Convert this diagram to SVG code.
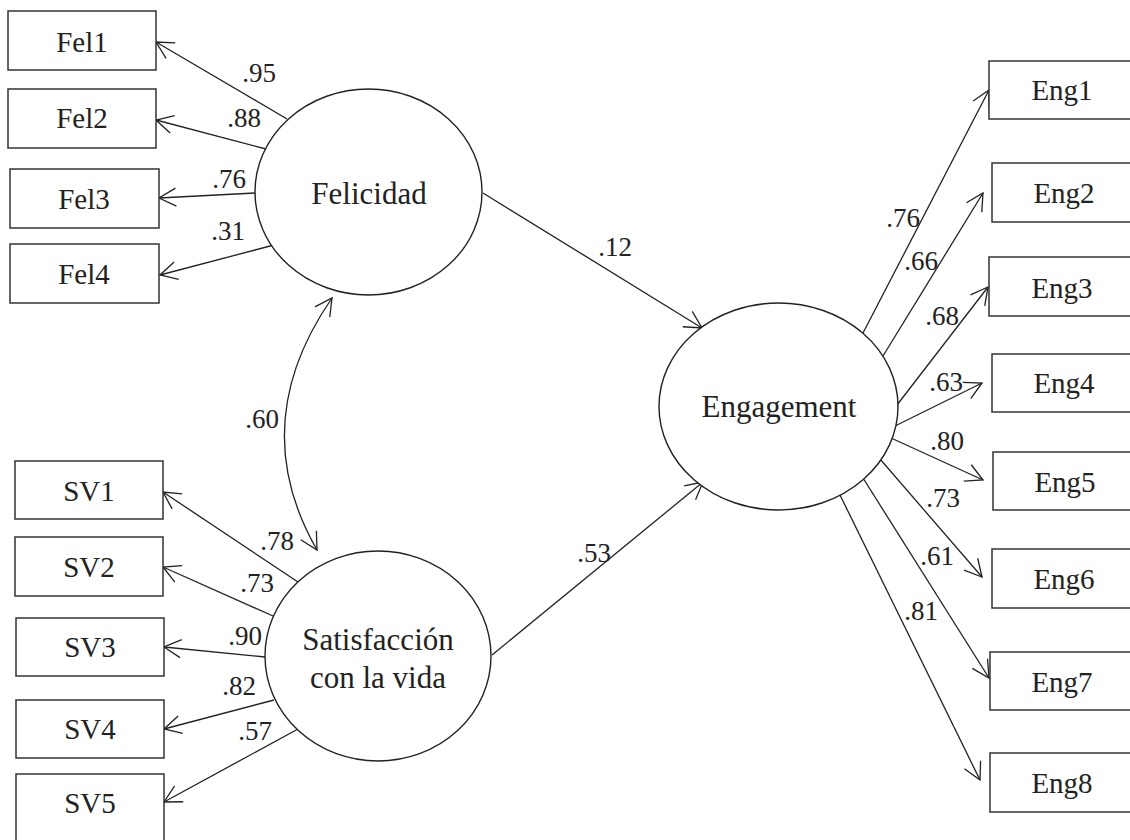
<svg xmlns="http://www.w3.org/2000/svg" width="1130" height="840" viewBox="0 0 1130 840">
<defs>
<style>
.box{fill:#fff;stroke:#333;stroke-width:1.5}
.lat{fill:#fff;stroke:#222;stroke-width:1.4}
.lbl{font-family:"Liberation Serif","Times New Roman",serif;font-size:29px;fill:#222;text-anchor:middle}
.big{font-family:"Liberation Serif","Times New Roman",serif;font-size:31px;fill:#222;text-anchor:middle}
.num{font-family:"Liberation Serif","Times New Roman",serif;font-size:27px;fill:#222;text-anchor:middle}
.ln{fill:none;stroke:#222;stroke-width:1.3;marker-end:url(#ah)}
</style>
<marker id="ah" markerUnits="userSpaceOnUse" markerWidth="22" markerHeight="22" viewBox="-20 -11 22 22" refX="0" refY="0" orient="auto-start-reverse">
<path d="M-17,-9 L0,0 L-17,9" fill="none" stroke="#222" stroke-width="1.3"/>
</marker>
</defs>

<g id="connectors">
<line class="ln" x1="287" y1="119" x2="156" y2="42"/>
<line class="ln" x1="266" y1="149" x2="156" y2="120"/>
<line class="ln" x1="255" y1="193" x2="159" y2="198"/>
<line class="ln" x1="274" y1="245" x2="160" y2="275"/>
<line class="ln" x1="298" y1="582" x2="163" y2="492"/>
<line class="ln" x1="273" y1="616" x2="163" y2="567"/>
<line class="ln" x1="265" y1="657" x2="164" y2="647"/>
<line class="ln" x1="274" y1="700" x2="164" y2="729"/>
<line class="ln" x1="298" y1="729" x2="164" y2="802"/>
<line class="ln" x1="483" y1="193" x2="702" y2="328"/>
<line class="ln" x1="492" y1="655" x2="703" y2="482"/>
<line class="ln" x1="863" y1="333" x2="989" y2="90"/>
<line class="ln" x1="883" y1="356" x2="983" y2="193"/>
<line class="ln" x1="897" y1="405" x2="988" y2="287"/>
<line class="ln" x1="893" y1="427" x2="982" y2="383"/>
<line class="ln" x1="891" y1="438" x2="983" y2="480"/>
<line class="ln" x1="880" y1="459" x2="982" y2="577"/>
<line class="ln" x1="863" y1="478" x2="989" y2="678"/>
<line class="ln" x1="840" y1="495" x2="980" y2="780"/>
<path class="ln" d="M332,298 Q245,424 317,550" style="marker-start:url(#ah)"/>
</g>

<g id="labels">
<text class="num" x="259" y="82">.95</text>
<text class="num" x="244" y="127">.88</text>
<text class="num" x="229" y="188">.76</text>
<text class="num" x="228" y="240">.31</text>
<text class="num" x="262" y="428">.60</text>
<text class="num" x="277" y="550">.78</text>
<text class="num" x="257" y="592">.73</text>
<text class="num" x="245" y="645">.90</text>
<text class="num" x="239" y="695">.82</text>
<text class="num" x="255" y="740">.57</text>
<text class="num" x="615" y="256">.12</text>
<text class="num" x="594" y="562">.53</text>
<text class="num" x="903" y="227">.76</text>
<text class="num" x="921" y="270">.66</text>
<text class="num" x="942" y="325">.68</text>
<text class="num" x="946" y="391">.63</text>
<text class="num" x="947" y="450">.80</text>
<text class="num" x="943" y="507">.73</text>
<text class="num" x="937" y="565">.61</text>
<text class="num" x="921" y="620">.81</text>
</g>

<g id="Felicidad"><ellipse class="lat" cx="368.5" cy="192" rx="113.5" ry="103"/><text class="big" x="369" y="204">Felicidad</text></g>
<g id="Satisfaccion"><ellipse class="lat" cx="378" cy="656" rx="113" ry="105"/><text class="big" x="378" y="650">Satisfacción</text><text class="big" x="378" y="688">con la vida</text></g>
<g id="Engagement"><ellipse class="lat" cx="778.5" cy="406.5" rx="119.5" ry="103.5"/><text class="big" x="779" y="417">Engagement</text></g>

<g id="Fel1"><rect class="box" x="8" y="11" width="148" height="59"/><text class="lbl" x="82" y="52">Fel1</text></g>
<g id="Fel2"><rect class="box" x="8" y="89" width="148" height="59"/><text class="lbl" x="82" y="128">Fel2</text></g>
<g id="Fel3"><rect class="box" x="10" y="169" width="149" height="59"/><text class="lbl" x="84" y="209">Fel3</text></g>
<g id="Fel4"><rect class="box" x="10" y="244" width="149" height="59"/><text class="lbl" x="84" y="284">Fel4</text></g>

<g id="SV1"><rect class="box" x="15" y="461" width="148" height="58"/><text class="lbl" x="89" y="501">SV1</text></g>
<g id="SV2"><rect class="box" x="15" y="537" width="148" height="59"/><text class="lbl" x="89" y="577">SV2</text></g>
<g id="SV3"><rect class="box" x="16" y="618" width="148" height="58"/><text class="lbl" x="90" y="657">SV3</text></g>
<g id="SV4"><rect class="box" x="16" y="700" width="148" height="58"/><text class="lbl" x="90" y="739">SV4</text></g>
<g id="SV5"><rect class="box" x="16" y="774" width="148" height="80"/><text class="lbl" x="90" y="813">SV5</text></g>

<g id="Eng1"><rect class="box" x="989" y="61" width="150" height="58"/><text class="lbl" x="1062" y="100">Eng1</text></g>
<g id="Eng2"><rect class="box" x="992" y="163" width="150" height="59"/><text class="lbl" x="1064" y="203">Eng2</text></g>
<g id="Eng3"><rect class="box" x="989" y="257" width="150" height="59"/><text class="lbl" x="1062" y="298">Eng3</text></g>
<g id="Eng4"><rect class="box" x="992" y="354" width="150" height="58"/><text class="lbl" x="1064" y="393">Eng4</text></g>
<g id="Eng5"><rect class="box" x="993" y="452" width="150" height="58"/><text class="lbl" x="1065" y="492">Eng5</text></g>
<g id="Eng6"><rect class="box" x="992" y="549" width="150" height="59"/><text class="lbl" x="1064" y="589">Eng6</text></g>
<g id="Eng7"><rect class="box" x="990" y="652" width="150" height="58"/><text class="lbl" x="1062" y="692">Eng7</text></g>
<g id="Eng8"><rect class="box" x="990" y="753" width="150" height="59"/><text class="lbl" x="1062" y="793">Eng8</text></g>
</svg>
